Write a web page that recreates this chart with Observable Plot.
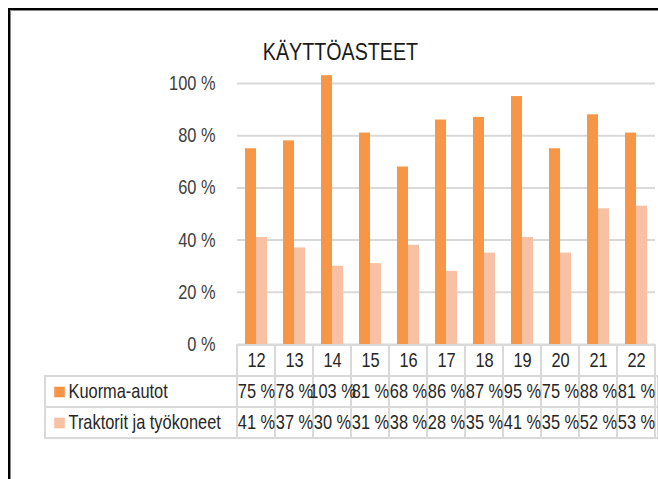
<!DOCTYPE html>
<html>
<head>
<meta charset="utf-8">
<script src="https://cdn.jsdelivr.net/npm/d3@7"></script>
<script src="https://cdn.jsdelivr.net/npm/@observablehq/plot@0.6"></script>
<style>
  html, body { margin: 0; padding: 0; background: #fff; }
  #wrap { position: relative; width: 658px; height: 479px; overflow: hidden; font-family: 'Liberation Sans', Arial, sans-serif; }
  #frame { position: absolute; left: 8px; top: 8px; width: 700px; height: 520px; border-left: 2px solid #000; border-top: 2px solid #000; box-shadow: inset 1px 1px 0 #888; }
  #title { position: absolute; left: 0; width: 681px; top: 40px; line-height: 24px; text-align: center; font-size: 24px; color: #1a1a1a; transform: scaleX(0.82); transform-origin: 340.5px 50%; }
  .layer { position: absolute; left: 0; top: 0; }
</style>
</head>
<body>
<div id="wrap">
  <div id="frame"></div>
  <div id="title">KÄYTTÖASTEET</div>
  <div id="table" class="layer"></div>
  <div id="chart" class="layer"></div>
</div>
<script>
const categories = ["12", "13", "14", "15", "16", "17", "18", "19", "20", "21", "22"];
const seriesNames = ["Kuorma-autot", "Traktorit ja työkoneet"];
const kuormaAutot = [75, 78, 103, 81, 68, 86, 87, 95, 75, 88, 81];
const traktorit = [41, 37, 30, 31, 38, 28, 35, 41, 35, 52, 53];
const yTicks = [0, 20, 40, 60, 80, 100];
const colors = ["#F79646", "#F9C1A3"];

const data = [];
categories.forEach((c, i) => {
  data.push({cat: c, series: seriesNames[0], value: kuormaAutot[i]});
  data.push({cat: c, series: seriesNames[1], value: traktorit[i]});
});

const font = "'Liberation Sans', Arial, sans-serif";
const narrow = 0.82;

// compress every text horizontally around its anchor (emulates a narrow font)
function narrowTexts(svg) {
  svg.querySelectorAll("text").forEach(t => {
    const tr = t.getAttribute("transform");
    if (tr) {
      t.setAttribute("transform", tr + ` scale(${narrow},1)`);
    } else {
      const x = +(t.getAttribute("x") || 0), y = +(t.getAttribute("y") || 0);
      t.removeAttribute("x"); t.removeAttribute("y");
      t.setAttribute("transform", `translate(${x},${y}) scale(${narrow},1)`);
    }
  });
  return svg;
}

const chart = Plot.plot({
  width: 658,
  height: 362,
  marginTop: 83,
  marginBottom: 18,
  marginLeft: 232,
  marginRight: 0,
  style: {background: "transparent", maxWidth: "none", fontFamily: font, fontSize: "20px", color: "#404040"},
  fx: {domain: categories, range: [232, 660], padding: 0, axis: null, label: null},
  x: {domain: seriesNames, paddingInner: 0, paddingOuter: 0.71, axis: null, label: null},
  y: {domain: [0, 100], ticks: yTicks, tickFormat: d => d + " %", tickSize: 0, tickPadding: 22, label: null},
  color: {domain: seriesNames, range: colors},
  marks: [
    Plot.ruleY(yTicks, {stroke: "#d9d9d9", strokeWidth: 2}),
    Plot.barY(data, {fx: "cat", x: "series", y: "value", fill: "series", inset: 0})
  ]
});
document.getElementById("chart").appendChild(narrowTexts(chart));

const rowKeys = ["header", ...seriesNames];
const tableData = [];
categories.forEach((c, i) => {
  tableData.push({cat: c, row: seriesNames[0], text: kuormaAutot[i] + " %"});
  tableData.push({cat: c, row: seriesNames[1], text: traktorit[i] + " %"});
});

const table = Plot.plot({
  width: 658,
  height: 479,
  marginTop: 344,
  marginBottom: 41,
  marginLeft: 45,
  marginRight: 0,
  style: {background: "transparent", maxWidth: "none", fontFamily: font, fontSize: "20px", color: "#262626"},
  x: {type: "band", domain: categories, range: [232, 660], padding: 0, axis: null},
  y: {type: "band", domain: rowKeys, padding: 0, axis: null},
  color: {domain: seriesNames, range: colors},
  marks: [
    Plot.cell(seriesNames, {y: d => d, fill: "white", stroke: "#d9d9d9", strokeWidth: 2, inset: 0}),
    Plot.cell(categories, {x: d => d, y: () => "header", fill: "white", stroke: "#d9d9d9", strokeWidth: 2, inset: 0}),
    Plot.cell(tableData, {x: "cat", y: "row", fill: "white", stroke: "#d9d9d9", strokeWidth: 2, inset: 0}),
    Plot.text(categories, {x: d => d, y: () => "header", text: d => d, fill: "#262626"}),
    Plot.text(tableData, {x: "cat", y: "row", text: "text", fill: "#262626"}),
    Plot.dot(seriesNames, {y: d => d, frameAnchor: "left", dx: 14, symbol: "square", r: 6, fill: d => d, stroke: null}),
    Plot.text(seriesNames, {y: d => d, text: d => d, frameAnchor: "left", textAnchor: "start", dx: 23, fill: "#262626"})
  ]
});
document.getElementById("table").appendChild(narrowTexts(table));
</script>
</body>
</html>
